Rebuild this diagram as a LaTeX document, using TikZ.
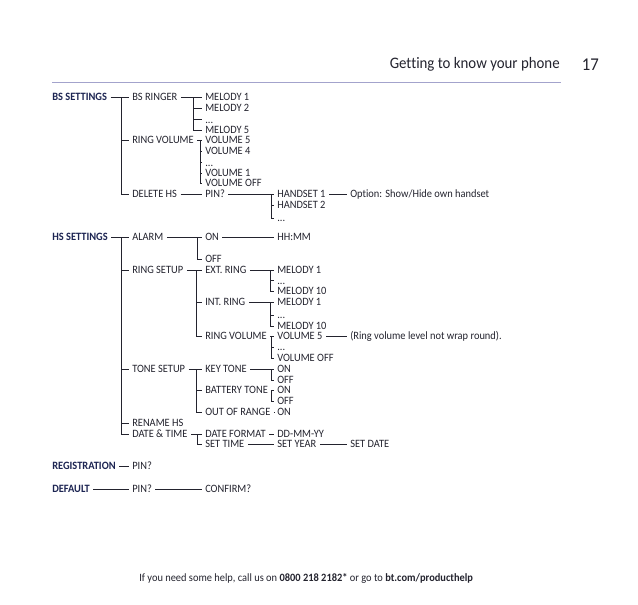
\documentclass[tikz,border=0pt]{standalone}
\usepackage{fontspec}
\setmainfont[FakeStretch=0.93,Ligatures=NoCommon]{Carlito}
\definecolor{ink}{HTML}{23232E}
\definecolor{navy}{HTML}{1C2452}
\definecolor{rulec}{HTML}{A3A3CC}
\tikzset{
  lbl/.style={anchor=west,inner xsep=2.5pt,inner ysep=0pt,text height=5.4pt,text depth=0pt,text=ink,font=\fontsize{8.4}{9}\selectfont},
  head/.style={lbl,text=navy,font=\fontsize{8.4}{9}\selectfont\bfseries,xshift=-2.5pt},
  item/.style={lbl,xshift=-2.5pt},
  conn/.style={draw=ink,line width=0.65pt}
}
\begin{document}
\begin{tikzpicture}[x=0.75pt,y=-0.75pt]
\useasboundingbox (0,0) rectangle (638,604);
% page furniture
\coordinate (ruleL) at (52,82);
\coordinate (ruleR) at (561,82);
\draw[rulec,line width=0.75pt] (ruleL) -- (ruleR);
\node[anchor=east,inner sep=0pt,text=ink,font=\fontsize{12}{14}\selectfont] (title) at (560,64.5) {Getting to know your phone};
\node[anchor=east,inner sep=0pt,text=ink,font=\fontsize{13.5}{15}\selectfont] (page) at (599,64.5) {17};
\node[anchor=west,inner sep=0pt,text=ink,font=\fontsize{8.4}{10}\selectfont] (foot) at (139,578) {If you need some help, call us on \textbf{0800 218 2182*} or go to \textbf{bt.com/producthelp}};
% BS SETTINGS
\node[head] (bs) at (52,97) {BS SETTINGS};
\node[item] (bsr) at (132,97) {BS RINGER};
\node[item] (bsm1) at (205,97) {MELODY 1};
\node[item] (bsm2) at (205,108) {MELODY 2};
\node[item] (bsmd) at (205,119.5) {...};
\node[item] (bsm5) at (205,130) {MELODY 5};
\node[item] (rv) at (132,140) {RING VOLUME};
\node[item] (rv5) at (205,140) {VOLUME 5};
\node[item] (rv4) at (205,151) {VOLUME 4};
\node[item] (rvd) at (205,162.5) {...};
\node[item] (rv1) at (205,173) {VOLUME 1};
\node[item] (rvo) at (205,183) {VOLUME OFF};
\node[item] (del) at (132,194) {DELETE HS};
\node[item] (pin) at (205,194) {PIN?};
\node[item] (h1) at (277,194) {HANDSET 1};
\node[item] (h2) at (277,205) {HANDSET 2};
\node[item] (hd) at (277,218) {...};
\node[item] (opt) at (350,194) {Option: Show/Hide own handset};
\coordinate (j1) at (121,97);
\coordinate (j2) at (193,97);
\coordinate (j3) at (200,140);
\coordinate (j4) at (271,194);
\draw[conn] (bs) -- (bsr);
\draw[conn] (j1) |- (rv);
\draw[conn] (j1) |- (del);
\draw[conn] (bsr) -- (bsm1);
\draw[conn] (j2) |- (bsm2);
\draw[conn] (j2) |- (bsmd);
\draw[conn] (j2) |- (bsm5);
\draw[conn] (rv) -- (rv5);
\draw[conn] (j3) |- (rv4);
\draw[conn] (j3) |- (rvd);
\draw[conn] (j3) |- (rv1);
\draw[conn] (j3) |- (rvo);
\draw[conn] (del) -- (pin);
\draw[conn] (pin) -- (h1);
\draw[conn] (j4) |- (h2);
\draw[conn] (j4) |- (hd);
\draw[conn] (h1) -- (opt);
% HS SETTINGS
\node[head] (hs) at (52,237) {HS SETTINGS};
\node[item] (al) at (132,237) {ALARM};
\node[item] (on) at (205,237) {ON};
\node[item] (hh) at (277,237) {HH:MM};
\node[item] (off) at (205,259) {OFF};
\node[item] (rs) at (132,270) {RING SETUP};
\node[item] (ext) at (205,270) {EXT. RING};
\node[item] (em1) at (277,270) {MELODY 1};
\node[item] (emd) at (277,280.5) {...};
\node[item] (em10) at (277,291) {MELODY 10};
\node[item] (int) at (205,302) {INT. RING};
\node[item] (im1) at (277,302) {MELODY 1};
\node[item] (imd) at (277,315) {...};
\node[item] (im10) at (277,326) {MELODY 10};
\node[item] (rv2) at (205,336) {RING VOLUME};
\node[item] (v5) at (277,336) {VOLUME 5};
\node[item] (wrap) at (350,336) {(Ring volume level not wrap round).};
\node[item] (vd) at (277,347) {...};
\node[item] (vo) at (277,358) {VOLUME OFF};
\node[item] (ts) at (132,369) {TONE SETUP};
\node[item] (kt) at (205,369) {KEY TONE};
\node[item] (kon) at (277,369) {ON};
\node[item] (koff) at (277,380) {OFF};
\node[item] (bt) at (205,390) {BATTERY TONE};
\node[item] (bon) at (277,390) {ON};
\node[item] (boff) at (277,401) {OFF};
\node[item] (oor) at (205,412) {OUT OF RANGE};
\node[item] (oon) at (277,412) {ON};
\node[item] (ren) at (132,423) {RENAME HS};
\node[item] (dt) at (132,434) {DATE \& TIME};
\node[item] (df) at (205,434) {DATE FORMAT};
\node[item] (dd) at (277,434) {DD-MM-YY};
\node[item] (st) at (205,444) {SET TIME};
\node[item] (sy) at (277,444) {SET YEAR};
\node[item] (sd) at (350,444) {SET DATE};
\coordinate (k1) at (121,237);
\coordinate (k2) at (197,237);
\coordinate (k3) at (196,270);
\coordinate (k4) at (270,270);
\coordinate (k5) at (270,302);
\coordinate (k6) at (271,336);
\coordinate (k7) at (196,369);
\coordinate (k8) at (271,369);
\coordinate (k9) at (271,390);
\coordinate (k10) at (197,434);
\draw[conn] (hs) -- (al);
\draw[conn] (k1) |- (rs);
\draw[conn] (k1) |- (ts);
\draw[conn] (k1) |- (ren);
\draw[conn] (k1) |- (dt);
\draw[conn] (al) -- (on);
\draw[conn] (k2) |- (off);
\draw[conn] (on) -- (hh);
\draw[conn] (rs) -- (ext);
\draw[conn] (k3) |- (int);
\draw[conn] (k3) |- (rv2);
\draw[conn] (ext) -- (em1);
\draw[conn] (k4) |- (emd);
\draw[conn] (k4) |- (em10);
\draw[conn] (int) -- (im1);
\draw[conn] (k5) |- (imd);
\draw[conn] (k5) |- (im10);
\draw[conn] (rv2) -- (v5);
\draw[conn] (k6) |- (vd);
\draw[conn] (k6) |- (vo);
\draw[conn] (v5) -- (wrap);
\draw[conn] (ts) -- (kt);
\draw[conn] (k7) |- (bt);
\draw[conn] (k7) |- (oor);
\draw[conn] (kt) -- (kon);
\draw[conn] (k8) |- (koff);
\draw[conn] (bt) -- (bon);
\draw[conn] (k9) |- (boff);
\draw[conn] (oor) -- (oon);
\draw[conn] (dt) -- (df);
\draw[conn] (k10) |- (st);
\draw[conn] (df) -- (dd);
\draw[conn] (st) -- (sy);
\draw[conn] (sy) -- (sd);
% REGISTRATION and DEFAULT
\node[head] (reg) at (52,466) {REGISTRATION};
\node[item] (rp) at (132,466) {PIN?};
\node[head] (def) at (52,489) {DEFAULT};
\node[item] (dp) at (132,489) {PIN?};
\node[item] (cf) at (205,489) {CONFIRM?};
\draw[conn] (reg) -- (rp);
\draw[conn] (def) -- (dp);
\draw[conn] (dp) -- (cf);
\end{tikzpicture}
\end{document}
